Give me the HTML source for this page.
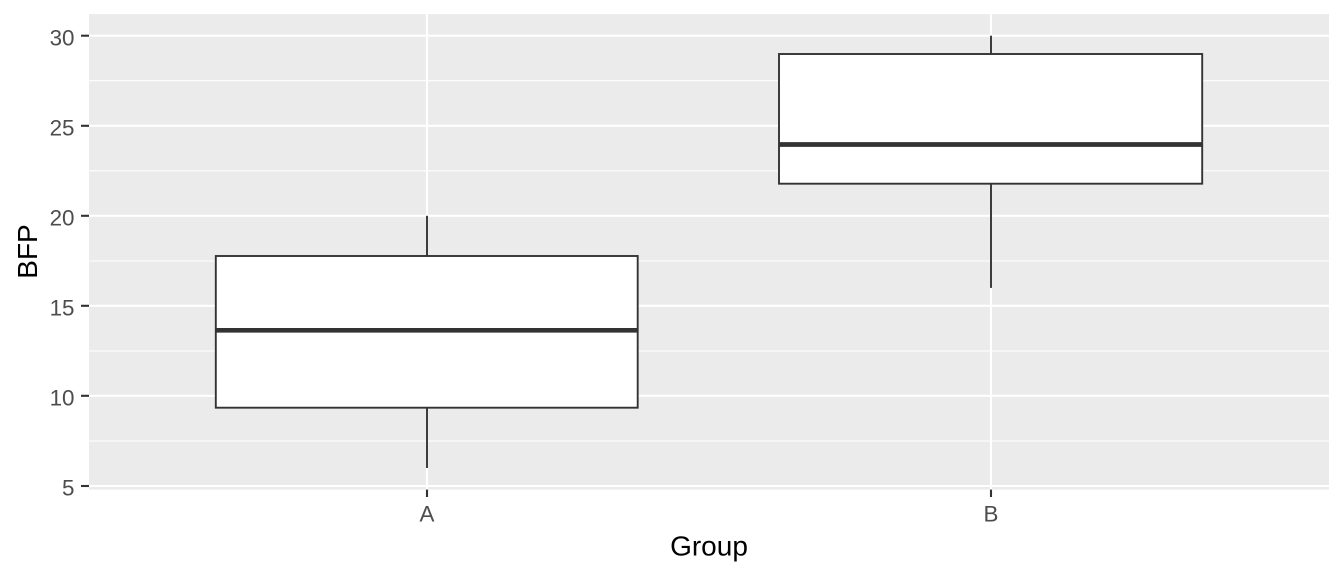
<!DOCTYPE html>
<html>
<head>
<meta charset="utf-8">
<style>
  html, body { margin: 0; padding: 0; background: #ffffff; }
  svg { display: block; }
  text { font-family: "Liberation Sans", Arial, sans-serif; }
</style>
</head>
<body>
<svg width="1344" height="576" viewBox="0 0 1344 576" xmlns="http://www.w3.org/2000/svg">
  <rect x="0" y="0" width="1344" height="576" fill="#ffffff"/>
  <!-- panel -->
  <rect x="89" y="14.1" width="1240" height="475.5" fill="#EBEBEB"/>
  <!-- minor grid -->
  <g stroke="#ffffff" stroke-width="1.1">
    <line x1="89" x2="1329" y1="441" y2="441"/>
    <line x1="89" x2="1329" y1="351" y2="351"/>
    <line x1="89" x2="1329" y1="261" y2="261"/>
    <line x1="89" x2="1329" y1="170.8" y2="170.8"/>
    <line x1="89" x2="1329" y1="80.7" y2="80.7"/>
  </g>
  <!-- major grid -->
  <g stroke="#ffffff" stroke-width="2.1">
    <line x1="89" x2="1329" y1="486" y2="486"/>
    <line x1="89" x2="1329" y1="395.8" y2="395.8"/>
    <line x1="89" x2="1329" y1="305.8" y2="305.8"/>
    <line x1="89" x2="1329" y1="215.8" y2="215.8"/>
    <line x1="89" x2="1329" y1="125.8" y2="125.8"/>
    <line x1="89" x2="1329" y1="35.7" y2="35.7"/>
    <line x1="427" x2="427" y1="14.1" y2="489.6"/>
    <line x1="991" x2="991" y1="14.1" y2="489.6"/>
  </g>
  <!-- box A -->
  <g stroke="#333333" fill="none" stroke-width="1.9">
    <line x1="427" x2="427" y1="215.8" y2="256"/>
    <line x1="427" x2="427" y1="407.7" y2="468"/>
    <rect x="215.8" y="256" width="421.9" height="151.7" fill="#ffffff"/>
  </g>
  <line x1="215.8" x2="637.7" y1="330.3" y2="330.3" stroke="#333333" stroke-width="4.7"/>
  <!-- box B -->
  <g stroke="#333333" fill="none" stroke-width="1.9">
    <line x1="991" x2="991" y1="35.7" y2="54"/>
    <line x1="991" x2="991" y1="183.7" y2="287.9"/>
    <rect x="779" y="54" width="423.2" height="129.7" fill="#ffffff"/>
  </g>
  <line x1="779" x2="1202.2" y1="144.5" y2="144.5" stroke="#333333" stroke-width="4.7"/>
  <!-- ticks -->
  <g stroke="#333333" stroke-width="2.1">
    <line x1="81" x2="89" y1="486" y2="486"/>
    <line x1="81" x2="89" y1="395.8" y2="395.8"/>
    <line x1="81" x2="89" y1="305.8" y2="305.8"/>
    <line x1="81" x2="89" y1="215.8" y2="215.8"/>
    <line x1="81" x2="89" y1="125.8" y2="125.8"/>
    <line x1="81" x2="89" y1="35.7" y2="35.7"/>
    <line x1="427" x2="427" y1="489.6" y2="497"/>
    <line x1="991" x2="991" y1="489.6" y2="497"/>
  </g>
  <g fill="#4D4D4D" font-size="22.4" text-anchor="end">
    <text x="74.5" y="495.5">5</text>
    <text x="74.5" y="405.3">10</text>
    <text x="74.5" y="315.3">15</text>
    <text x="74.5" y="225.3">20</text>
    <text x="74.5" y="135.3">25</text>
    <text x="74.5" y="45.4">30</text>
  </g>
  <g fill="#4D4D4D" font-size="22.4" text-anchor="middle">
    <text x="427" y="521.6">A</text>
    <text x="991" y="521.6">B</text>
  </g>
  <text x="709" y="555.6" font-size="28" text-anchor="middle" fill="#000000">Group</text>
  <text transform="translate(37,251.5) rotate(-90)" x="0" y="0" font-size="28" text-anchor="middle" fill="#000000">BFP</text>
</svg>
</body>
</html>
